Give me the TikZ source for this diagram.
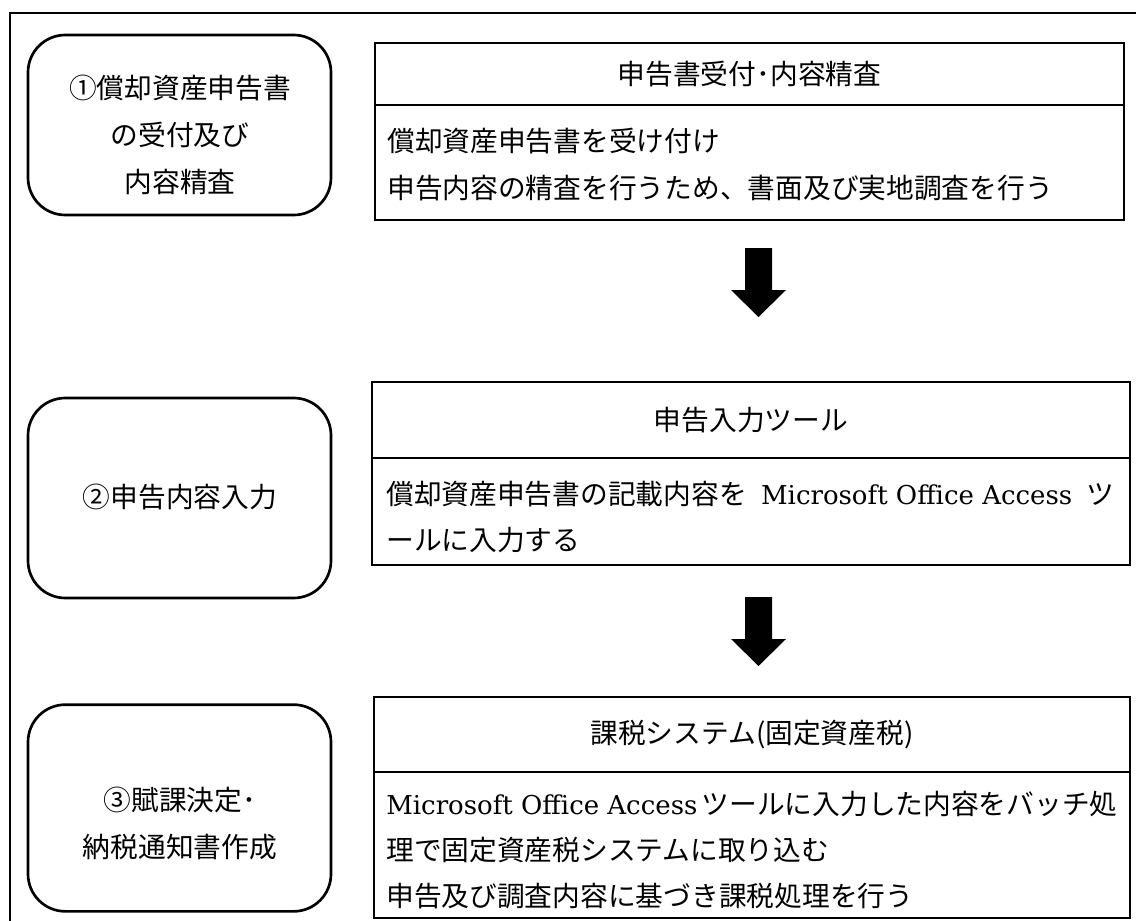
\documentclass[tikz,border=0pt]{standalone}
\usepackage{fontspec}
\newfontfamily\jp{Noto Sans CJK JP}
\newfontfamily\latn{DejaVu Serif}
\newcommand{\msoa}{\mbox{\latn\fontsize{19.5}{35.25}\selectfont Microsoft Office Access}}
\begin{document}
\begin{tikzpicture}[x=0.75pt,y=-0.75pt,
  font=\jp\fontsize{20.8}{35.25}\selectfont,
  frame/.style={line width=2.2pt},
  stage/.style={draw, line width=2pt, rounded corners=28pt, minimum width=227.25pt, inner sep=0pt},
  stagetext/.style={align=center, inner sep=0pt},
  boxpart/.style={draw, line width=2pt, inner sep=0pt},
  bodyline/.style={anchor=west, inner sep=0pt},
  blockarrow/.style={fill=black}]
\useasboundingbox (0,0) rectangle (1136,921);
\fill[white] (0,0) rectangle (1136,921);
\draw[frame] (1136,13) -- (10,13) -- (10,921);

% stage boxes
\node[stage, minimum height=135pt] (b1) at (179.5,125) {};
\node[stagetext] (l1) at (180,135) {①償却資産申告書\\の受付及び\\内容精査};
\node[stage, minimum height=150pt] (b2) at (179.5,498) {};
\node[stagetext] (l2) at (180,497) {②申告内容入力};
\node[stage, minimum height=155pt] (b3) at (179.5,808) {};
\node[stagetext] (l3) at (180,823) {③賦課決定･\\納税通知書作成};

% box 1
\node[boxpart, minimum width=561.75pt, minimum height=46.5pt] (h1) at (749.5,74) {申告書受付･内容精査};
\node[boxpart, minimum width=561.75pt, minimum height=86.25pt] (p1) at (749.5,162.5) {};
\node[bodyline] (t11) at (387,141) {償却資産申告書を受け付け};
\node[bodyline] (t12) at (387,188) {申告内容の精査を行うため、書面及び実地調査を行う};

% box 2
\node[boxpart, minimum width=568.5pt, minimum height=57pt] (h2) at (751,420) {申告入力ツール};
\node[boxpart, minimum width=568.5pt, minimum height=80.25pt] (p2) at (751,511.5) {};
\node[bodyline] (t21) at (386,494) {\makebox[546pt][s]{償却資産申告書の記載内容を \msoa{} ツ}};
\node[bodyline] (t22) at (386,540) {ールに入力する};

% box 3
\node[boxpart, minimum width=567pt, minimum height=56.25pt] (h3) at (752,734.5) {課税システム(固定資産税)};
\node[boxpart, minimum width=567pt, minimum height=109.5pt] (p3) at (752,845) {};
\node[bodyline] (t31) at (386,804) {\makebox[546pt][s]{\msoa{} ツールに入力した内容をバッチ処}};
\node[bodyline] (t32) at (386,850) {理で固定資産税システムに取り込む};
\node[bodyline] (t33) at (386,896) {申告及び調査内容に基づき課税処理を行う};

% block arrows
\fill[blockarrow] (745,248) -- (772,248) -- (772,290) -- (786,290) -- (758.5,317) -- (731,290) -- (745,290) -- cycle;
\fill[blockarrow] (745,597) -- (772,597) -- (772,639) -- (786,639) -- (758.5,666) -- (731,639) -- (745,639) -- cycle;
\end{tikzpicture}
\end{document}
